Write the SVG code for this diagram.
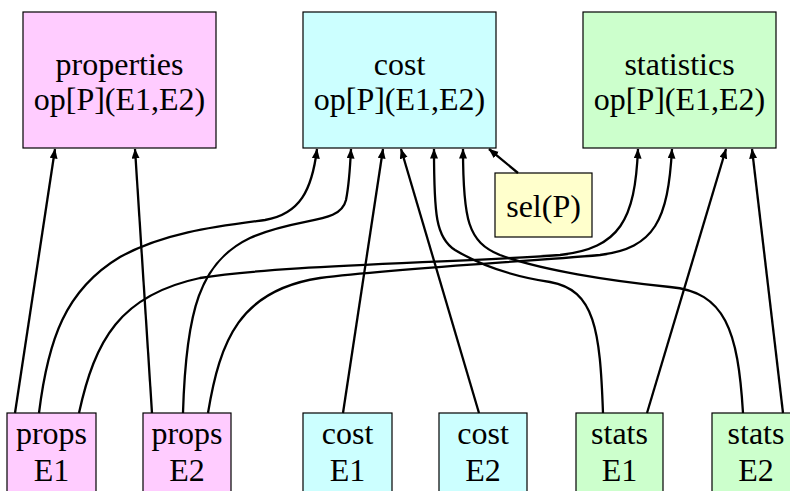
<svg xmlns="http://www.w3.org/2000/svg" width="790" height="491" viewBox="0 0 790 491">
<style>
.box{stroke:#000;stroke-width:1.2}
.p{fill:#FFCCFF}.c{fill:#CCFFFF}.s{fill:#CCFFCC}.y{fill:#FFFFCC}
text{font-family:"Liberation Serif","Times New Roman",serif;font-size:32px;fill:#000;text-anchor:middle}
.e{fill:none;stroke:#000;stroke-width:2.3;marker-end:url(#ah)}
</style>
<defs>
<marker id="ah" markerUnits="userSpaceOnUse" markerWidth="11" markerHeight="9" refX="9.5" refY="4" orient="auto">
<path d="M0,0 L10,4 L0,8 z" fill="#000"/>
</marker>
</defs>
<rect width="790" height="491" fill="#fff"/>
<g id="properties"><rect class="box p" x="23" y="12" width="193" height="136"/><text x="119.5" y="75">properties</text><text x="119.5" y="110">op[P](E1,E2)</text></g>
<g id="cost"><rect class="box c" x="303" y="12" width="193" height="136"/><text x="399.5" y="75">cost</text><text x="399.5" y="110">op[P](E1,E2)</text></g>
<g id="statistics"><rect class="box s" x="583" y="12" width="193" height="136"/><text x="679.5" y="75">statistics</text><text x="679.5" y="110">op[P](E1,E2)</text></g>
<g id="sel"><rect class="box y" x="495" y="173" width="97" height="64"/><text x="543.5" y="217">sel(P)</text></g>
<g id="propsE1"><rect class="box p" x="7" y="413" width="89" height="90"/><text x="51.5" y="444">props</text><text x="51.5" y="481">E1</text></g>
<g id="propsE2"><rect class="box p" x="143" y="413" width="88" height="90"/><text x="187" y="444">props</text><text x="187" y="481">E2</text></g>
<g id="costE1"><rect class="box c" x="303" y="413" width="89" height="90"/><text x="347.5" y="444">cost</text><text x="347.5" y="481">E1</text></g>
<g id="costE2"><rect class="box c" x="439" y="413" width="88" height="90"/><text x="483" y="444">cost</text><text x="483" y="481">E2</text></g>
<g id="statsE1"><rect class="box s" x="576" y="413" width="87" height="90"/><text x="619.5" y="444">stats</text><text x="619.5" y="481">E1</text></g>
<g id="statsE2"><rect class="box s" x="712" y="413" width="88" height="90"/><text x="756" y="444">stats</text><text x="756" y="481">E2</text></g>
<g id="connectors">
<path class="e" d="M15,413 L55,149"/>
<path class="e" d="M152,413 L135,149"/>
<path class="e" d="M39,413 C48,340 65,290 120,257 C165,232 220,226 265,220 C300,214 312,190 317,149"/>
<path class="e" d="M183,413 C186,310 200,262 250,238 C300,216 340,225 346,200 C349,185 350,170 351,149"/>
<path class="e" d="M343,413 L383,149"/>
<path class="e" d="M479,413 L401,149"/>
<path class="e" d="M603,413 C600,330 595,290 550,282 C510,276 480,265 455,250 C436,238 434,215 434,149"/>
<path class="e" d="M743,413 C738,330 725,292 670,287 C610,281 540,270 500,255 C468,242 463,220 463,149"/>
<path class="e" d="M79,413 C95,340 120,295 200,278 C280,265 450,263 560,255 C620,248 635,220 638,149"/>
<path class="e" d="M208,413 C220,340 240,290 320,278 C400,268 520,262 600,255 C655,248 668,220 672,149"/>
<path class="e" d="M647,413 L726,149"/>
<path class="e" d="M783,413 L752,149"/>
<path class="e" d="M518,173 L489,149"/>
</g>
</svg>
